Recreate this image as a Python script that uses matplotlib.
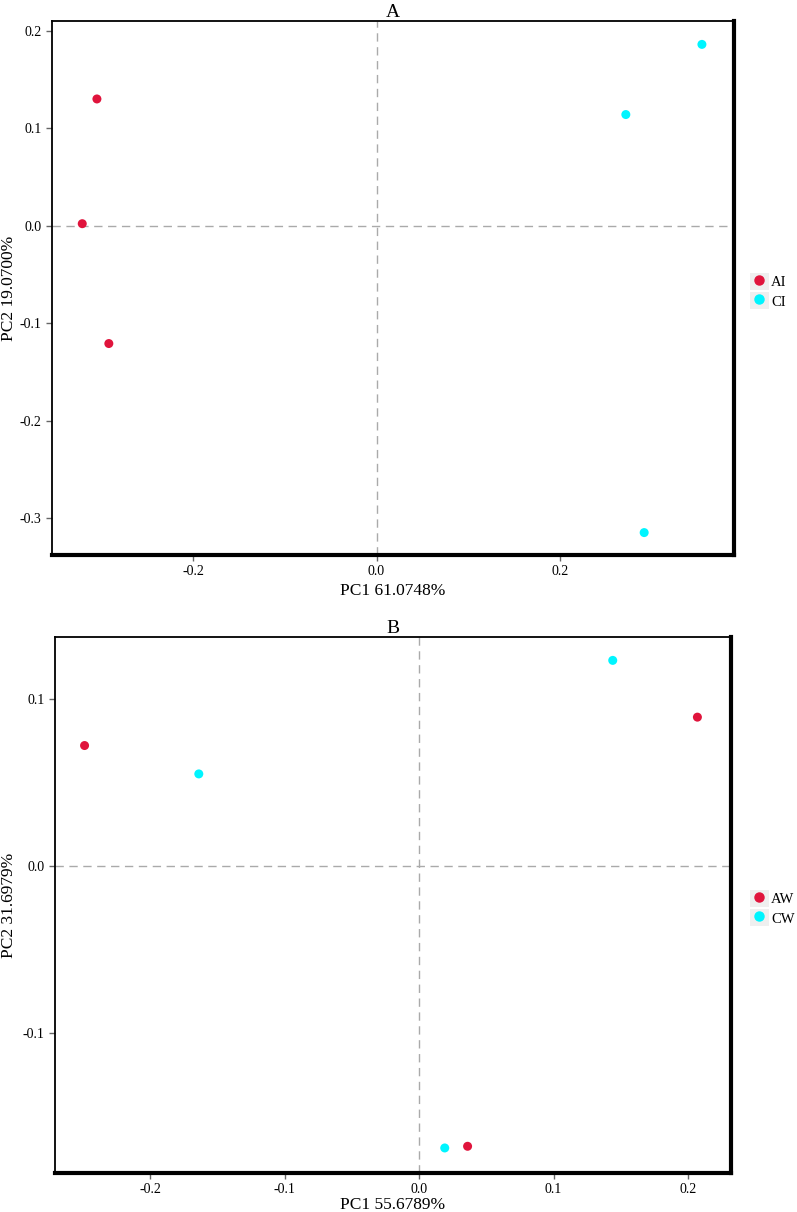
import matplotlib
matplotlib.use("Agg")
import matplotlib.pyplot as plt
from matplotlib.patches import Rectangle
from matplotlib.lines import Line2D
from matplotlib.legend_handler import HandlerTuple

plt.rcParams['font.family'] = ['Liberation Serif', 'DejaVu Serif']

# Panel A data
a_groups = ["AI", "CI"]
a_ai_x = [-0.305, -0.321, -0.292]
a_ai_y = [0.130, 0.002, -0.121]
a_ci_x = [0.272, 0.355, 0.292]
a_ci_y = [0.114, 0.186, -0.315]
a_xticks = [-0.2, 0.0, 0.2]
a_yticks = [-0.3, -0.2, -0.1, 0.0, 0.1, 0.2]
a_xlabel = "PC1 61.0748%"
a_ylabel = "PC2 19.0700%"

# Panel B data
b_groups = ["AW", "CW"]
b_aw_x = [-0.249, 0.207, 0.036]
b_aw_y = [0.072, 0.089, -0.168]
b_cw_x = [-0.164, 0.144, 0.019]
b_cw_y = [0.055, 0.123, -0.169]
b_xticks = [-0.2, -0.1, 0.0, 0.1, 0.2]
b_yticks = [-0.1, 0.0, 0.1]
b_xlabel = "PC1 55.6789%"
b_ylabel = "PC2 31.6979%"

RED = "#E0143C"
CYAN = "#00F5FF"

fig = plt.figure(figsize=(7.97, 12.12), dpi=100)

def panel(px, title, xs, ys, groups, xlim, ylim, xticks, yticks, xlabel, ylabel,
          legy, xlabelpad):
    l, t, r, b = px
    W, H = 797, 1212
    ax = fig.add_axes([l / W, 1 - b / H, (r - l) / W, (b - t) / H])
    ax.axvline(0, color="#AAAAAA", lw=1.0, ls=(0, (6, 4)), zorder=1)
    ax.axhline(0, color="#AAAAAA", lw=1.0, ls=(0, (6, 4)), zorder=1)
    cols = [RED, CYAN]
    for (x, y), c in zip(zip(xs, ys), cols):
        ax.scatter(x, y, s=42, color=c, edgecolors="none", zorder=3)
    ax.set_xlim(*xlim)
    ax.set_ylim(*ylim)
    ax.set_xticks(xticks)
    ax.set_yticks(yticks)
    ax.set_xticklabels([f"{t:.1f}" for t in xticks])
    ax.set_yticklabels([f"{t:.1f}" for t in yticks])
    ax.tick_params(direction="out", length=4.5, width=1, color="#666666",
                   labelsize=10, pad=3)
    for s in ["left", "top"]:
        ax.spines[s].set_linewidth(1.3)
    for s in ["right", "bottom"]:
        ax.spines[s].set_linewidth(3.0)
    ax.set_xlabel(xlabel, fontsize=12.5, labelpad=xlabelpad)
    ax.set_ylabel(ylabel, fontsize=12.5)
    ax.yaxis.set_label_coords((17 - l) / (r - l), 0.5)
    ax.set_title(title, fontsize=14, pad=3)
    handles = []
    for c in cols:
        bg = Rectangle((0, 0), 1, 1, facecolor="#EFEFEF", edgecolor="none")
        mk = Line2D([], [], marker="o", ls="none", color=c, markersize=6.5)
        handles.append((bg, mk))
    fig.legend(handles, groups, handler_map={tuple: HandlerTuple(ndivide=1, pad=0)},
               loc="center left", bbox_to_anchor=(750 / 797, legy),
               frameon=False, fontsize=10.5, handlelength=1.3, handleheight=1.35,
               handletextpad=0.15, labelspacing=0.2, borderpad=0, borderaxespad=0)
    return ax

panel((52, 21, 734, 555), "A",
      [a_ai_x, a_ci_x], [a_ai_y, a_ci_y], a_groups,
      (-0.354, 0.390), (-0.338, 0.210), a_xticks, a_yticks, a_xlabel, a_ylabel,
      1 - 291 / 1212, 3)

panel((55, 637, 731, 1173), "B",
      [b_aw_x, b_cw_x], [b_aw_y, b_cw_y], b_groups,
      (-0.271, 0.232), (-0.184, 0.137), b_xticks, b_yticks, b_xlabel, b_ylabel,
      1 - 908 / 1212, 0.5)

fig.savefig("out.png", dpi=100)
